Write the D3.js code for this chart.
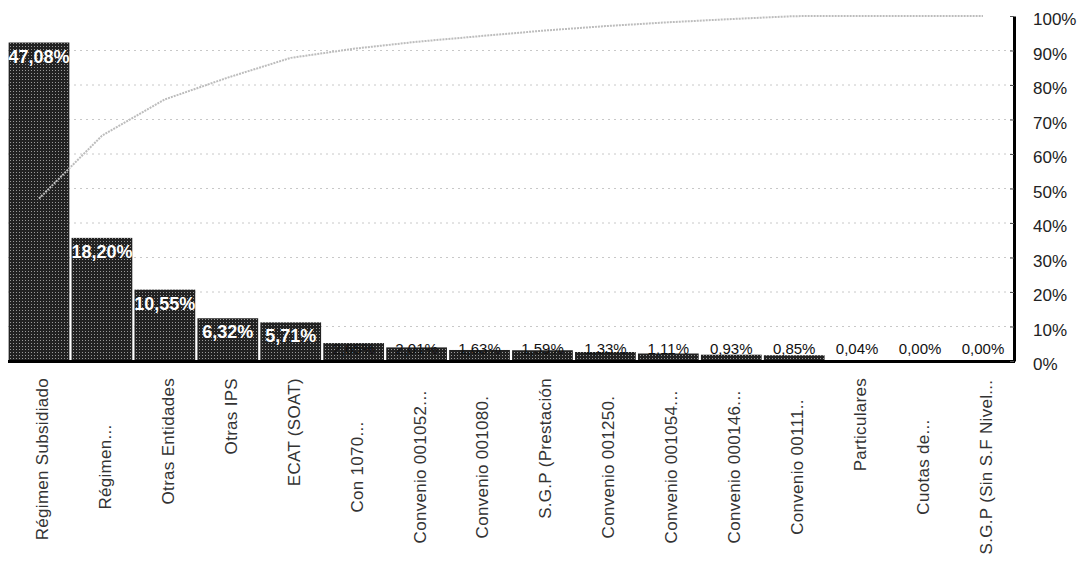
<!DOCTYPE html>
<html>
<head>
<meta charset="utf-8">
<script src="https://cdn.jsdelivr.net/npm/d3@7"></script>
<style>
  body { margin: 0; background: #fff; }
  svg { display: block; }
  text { font-family: "Liberation Sans", Arial, sans-serif; }
</style>
</head>
<body>
<div id="chart"></div>
<script>
// categories and their share of the total (percent)
var categories = [
	"Régimen Subsidiado", "Régimen...", "Otras Entidades", "Otras IPS", "ECAT (SOAT)",
	"Con 1070...", "Convenio 001052...", "Convenio 001080.", "S.G.P (Prestación",
	"Convenio 001250.", "Convenio 001054...", "Convenio 000146...", "Convenio 00111..",
	"Particulares", "Cuotas de...", "S.G.P (Sin S.F Nivel..."
];
var shares = [47.08, 18.20, 10.55, 6.32, 5.71, 2.65, 2.01, 1.63, 1.59, 1.33, 1.11, 0.93, 0.85, 0.04, 0.00, 0.00];
var rightTicks = [0, 10, 20, 30, 40, 50, 60, 70, 80, 90, 100];

// cumulative share for the pareto line
var cumulative = Array.from(d3.cumsum(shares));

var W = 1085, H = 566;
var plot = { left: 8, right: 1014, top: 16, bottom: 361 };

var svg = d3.select("#chart").append("svg")
	.attr("width", W)
	.attr("height", H);

svg.append("rect").attr("width", W).attr("height", H).attr("fill", "#fff");

// halftone-ish fill like the scanned bars
var defs = svg.append("defs");
var pat = defs.append("pattern")
	.attr("id", "scan")
	.attr("width", 3).attr("height", 3)
	.attr("patternUnits", "userSpaceOnUse");
pat.append("rect").attr("width", 3).attr("height", 3).attr("fill", "#222");
pat.append("rect").attr("x", 1).attr("y", 1).attr("width", 1).attr("height", 1).attr("fill", "#999");

var comma = d3.formatLocale({ decimal: ",", thousands: ".", grouping: [3], currency: ["", ""] });
var fmt = comma.format(".2f");

var x = d3.scaleBand()
	.domain(categories)
	.range([plot.left, plot.right])
	.paddingInner(0.035)
	.paddingOuter(0.01);

var yBar = d3.scaleLinear().domain([0, 51]).range([plot.bottom, plot.top]);
var yCum = d3.scaleLinear().domain([0, 100]).range([plot.bottom, plot.top]);

function inside(d) { return (plot.bottom - yBar(d)) > 25; }

// faint dotted gridlines
svg.append("g").selectAll("line")
	.data(rightTicks.slice(1, -1))
	.enter().append("line")
	.attr("x1", plot.left).attr("x2", plot.right)
	.attr("y1", function(d) { return yCum(d); })
	.attr("y2", function(d) { return yCum(d); })
	.attr("stroke", "#c8c8c8")
	.attr("stroke-width", 1)
	.attr("stroke-dasharray", "2,4");

// bars
svg.append("g").selectAll("rect")
	.data(shares)
	.enter().append("rect")
	.attr("x", function(d, i) { return x(categories[i]); })
	.attr("y", function(d) { return yBar(d); })
	.attr("width", x.bandwidth())
	.attr("height", function(d) { return plot.bottom - yBar(d); })
	.attr("fill", "url(#scan)");

// cumulative line
var line = d3.line()
	.x(function(d, i) { return x(categories[i]) + x.bandwidth() / 2; })
	.y(function(d) { return yCum(d); });

svg.append("path")
	.datum(cumulative)
	.attr("d", line)
	.attr("fill", "none")
	.attr("stroke", "#bdbdbd")
	.attr("stroke-width", 2)
	.attr("stroke-dasharray", "2,1");

// data labels
svg.append("g").selectAll("text")
	.data(shares)
	.enter().append("text")
	.attr("x", function(d, i) { return x(categories[i]) + x.bandwidth() / 2; })
	.attr("y", function(d) { return inside(d) ? yBar(d) + 20 : plot.bottom - 7; })
	.attr("text-anchor", "middle")
	.attr("fill", function(d) { return inside(d) ? "#fff" : "#111"; })
	.attr("font-weight", function(d) { return inside(d) ? "bold" : "normal"; })
	.attr("font-size", function(d) { return inside(d) ? "18px" : "15px"; })
	.text(function(d) { return fmt(d) + "%"; });

// baseline and right axis
svg.append("line")
	.attr("x1", plot.left).attr("x2", plot.right + 1)
	.attr("y1", plot.bottom + 0.5).attr("y2", plot.bottom + 0.5)
	.attr("stroke", "#000").attr("stroke-width", 3);

var rightAxis = d3.axisRight(yCum)
	.tickValues(rightTicks)
	.tickSize(0)
	.tickPadding(19)
	.tickFormat(function(d) { return d + "%"; });

var ra = svg.append("g")
	.attr("transform", "translate(" + plot.right + ",0)")
	.call(rightAxis);
ra.select(".domain").attr("stroke", "#000").attr("stroke-width", 3);
ra.selectAll("text")
	.attr("font-family", "Liberation Sans, Arial, sans-serif")
	.attr("font-size", "17px")
	.attr("fill", "#222")
	.attr("dy", "0.5em");
ra.selectAll(".tick").append("line")
	.attr("x1", -4).attr("x2", 0)
	.attr("stroke", "#555");

// rotated category labels
svg.append("g").selectAll("text")
	.data(categories)
	.enter().append("text")
	.attr("transform", function(d) {
		var cx = x(d) + x.bandwidth() / 2 + 3;
		var dotted = /\.$/.test(d);
		return "translate(" + cx + "," + (dotted ? 467 : 378) + ") rotate(-90)";
	})
	.attr("text-anchor", function(d) { return /\.$/.test(d) ? "middle" : "end"; })
	.attr("dy", "0.35em")
	.attr("font-size", "17px")
	.attr("letter-spacing", "0.3px")
	.attr("fill", "#333")
	.text(function(d) { return d; });
</script>
</body>
</html>
